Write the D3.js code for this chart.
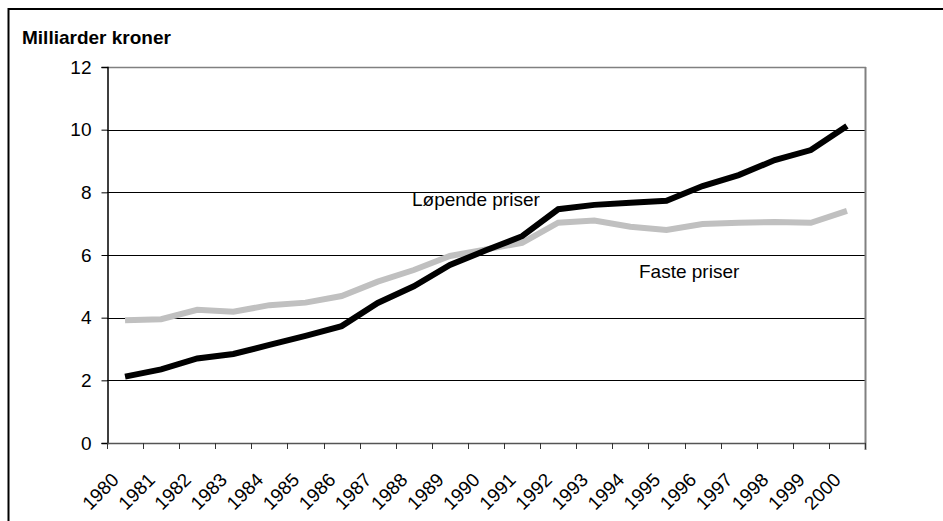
<!DOCTYPE html>
<html>
<head>
<meta charset="utf-8">
<script src="https://cdn.jsdelivr.net/npm/d3@7"></script>
<style>
  html, body { margin: 0; padding: 0; background: #fff; }
  svg { display: block; font-family: "Liberation Sans", Arial, sans-serif; }
</style>
</head>
<body>
<svg id="chart" width="943" height="521"></svg>
<script>
const years = ["1980","1981","1982","1983","1984","1985","1986","1987","1988","1989","1990",
               "1991","1992","1993","1994","1995","1996","1997","1998","1999","2000"];
const lopendePriser = [2.12, 2.35, 2.70, 2.84, 3.13, 3.42, 3.73, 4.47, 5.00, 5.68, 6.15,
                       6.60, 7.46, 7.60, 7.67, 7.73, 8.20, 8.55, 9.03, 9.35, 10.12];
const fastePriser   = [3.92, 3.95, 4.25, 4.19, 4.40, 4.48, 4.69, 5.15, 5.52, 5.97, 6.18,
                       6.39, 7.03, 7.10, 6.90, 6.80, 6.99, 7.03, 7.05, 7.03, 7.41];
const yTicks = [0, 2, 4, 6, 8, 10, 12];
const yTitle = "Milliarder kroner";
const seriesNames = ["Løpende priser", "Faste priser"];

const svg = d3.select("#chart");
const pLeft = 107, pRight = 865, pTop = 67, pBottom = 443;

const x = d3.scaleBand().domain(years).range([pLeft, pRight]).paddingInner(0).paddingOuter(0);
const y = d3.scaleLinear().domain([0, 12]).range([pBottom, pTop]);
const cx = d => x(d) + x.bandwidth() / 2;

// outer frame (left and top)
svg.append("line").attr("x1", 8.5).attr("x2", 8.5).attr("y1", 8).attr("y2", 521)
  .attr("stroke", "#000").attr("stroke-width", 2);
svg.append("line").attr("x1", 8).attr("x2", 943).attr("y1", 9).attr("y2", 9)
  .attr("stroke", "#000").attr("stroke-width", 2);

// gridlines
svg.append("g").selectAll("line").data(yTicks.filter(t => t > 0 && t < 12)).join("line")
  .attr("x1", pLeft).attr("x2", pRight)
  .attr("y1", d => Math.round(y(d)) + 0.5).attr("y2", d => Math.round(y(d)) + 0.5)
  .attr("stroke", "#000").attr("stroke-width", 1);

// plot border top & right
svg.append("line").attr("x1", pLeft).attr("x2", pRight + 1).attr("y1", pTop + 0.5).attr("y2", pTop + 0.5)
  .attr("stroke", "#808080").attr("stroke-width", 1.5);
svg.append("line").attr("x1", pRight + 0.5).attr("x2", pRight + 0.5).attr("y1", pTop).attr("y2", pBottom + 7)
  .attr("stroke", "#808080").attr("stroke-width", 2);

// y axis
const yAxis = d3.axisLeft(y).tickValues(yTicks).tickSize(6).tickPadding(10).tickFormat(d3.format("d"));
const gy = svg.append("g").attr("transform", `translate(${pLeft + 0.5},0)`).call(yAxis);
gy.select(".domain").attr("stroke", "#000").attr("stroke-width", 1.5);
gy.selectAll(".tick line").attr("stroke", "#000");
gy.selectAll(".tick text").attr("font-size", 19).attr("fill", "#000")
  .attr("font-family", "'Liberation Sans', Arial, sans-serif");

// x axis: labels via band axis, ticks at band boundaries
const xAxis = d3.axisBottom(x).tickSize(0).tickPadding(0);
const gx = svg.append("g").attr("transform", `translate(0,${pBottom})`).call(xAxis);
gx.select(".domain").remove();
gx.selectAll(".tick text")
  .attr("font-size", 19).attr("fill", "#000")
  .attr("font-family", "'Liberation Sans', Arial, sans-serif")
  .attr("text-anchor", "end")
  .attr("dy", null)
  .attr("transform", "translate(-5,38) rotate(-45)");

svg.append("line").attr("x1", pLeft).attr("x2", pRight + 1).attr("y1", pBottom + 0.5).attr("y2", pBottom + 0.5)
  .attr("stroke", "#555").attr("stroke-width", 1.5);
const boundaries = years.map(d => x(d)).concat([pRight]);
svg.append("g").selectAll("line").data(boundaries).join("line")
  .attr("x1", d => Math.round(d) + 0.5).attr("x2", d => Math.round(d) + 0.5)
  .attr("y1", pBottom).attr("y2", pBottom + 6)
  .attr("stroke", "#333").attr("stroke-width", 1);

// lines
const line = d3.line().x((d, i) => cx(years[i])).y(d => y(d));
svg.append("path").datum(fastePriser).attr("d", line)
  .attr("fill", "none").attr("stroke", "#c0c0c0").attr("stroke-width", 6)
  .attr("stroke-linejoin", "miter");
svg.append("path").datum(lopendePriser).attr("d", line)
  .attr("fill", "none").attr("stroke", "#000").attr("stroke-width", 6)
  .attr("stroke-linejoin", "miter");

// texts
svg.append("text").attr("x", 22).attr("y", 44).attr("font-size", 19).attr("font-weight", "bold")
  .attr("fill", "#000").text(yTitle);
svg.append("text").attr("x", 412).attr("y", 206).attr("font-size", 19).attr("fill", "#000").text(seriesNames[0]);
svg.append("text").attr("x", 639).attr("y", 278).attr("font-size", 19).attr("fill", "#000").text(seriesNames[1]);
</script>
</body>
</html>
